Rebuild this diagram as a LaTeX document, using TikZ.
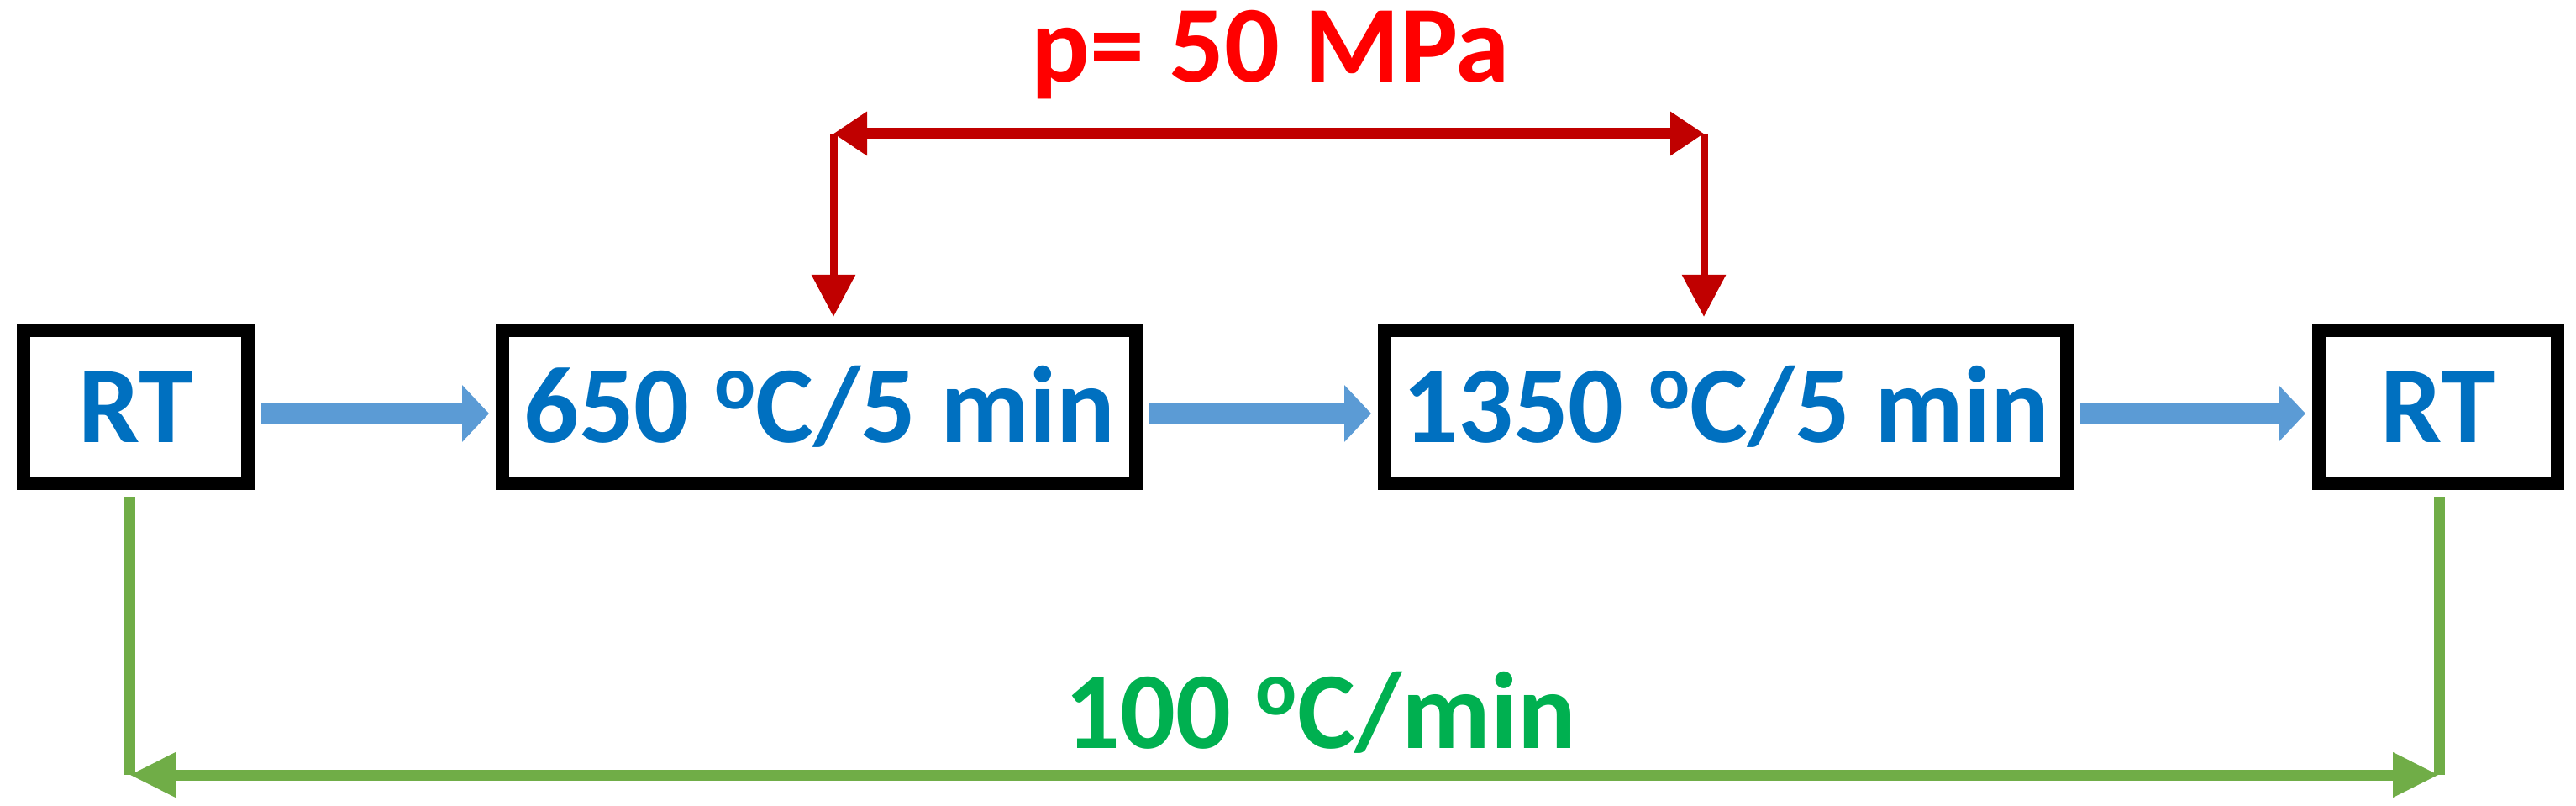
\documentclass[tikz,border=0pt]{standalone}
\usepackage{fontspec}
\setmainfont{Carlito}
\usetikzlibrary{arrows.meta,%
		calc}
\definecolor{stageblue}{HTML}{0070C0}
\definecolor{flowblue}{HTML}{5B9BD5}
\definecolor{pressred}{HTML}{C00000}
\definecolor{labelred}{HTML}{FF0000}
\definecolor{coolgreen}{HTML}{70AD47}
\definecolor{labelgreen}{HTML}{00B050}
\newcommand{\degO}{\raisebox{0.40cm}{\fontsize{26}{26}\selectfont o}}

\begin{document}
\begin{tikzpicture}[font=\fontsize{37}{44}\selectfont\bfseries,
	stage/.style={draw=black, line width=0.16cm, fill=white, text=stageblue, minimum height=1.82cm, inner sep=0pt},
	flow/.style={line width=0.24cm, flowblue, shorten <=0.08cm, shorten >=0.08cm, -{Triangle[length=0.32cm,width=0.66cm]}},
	press/.style={line width=0.09cm, pressred},
	cool/.style={line width=0.13cm, coolgreen}]

\useasboundingbox (0,0) rectangle (30.66,9.58);

\node[stage, minimum width=2.67cm] (rtA) at (1.615,4.74) {RT};
\node[stage, minimum width=7.54cm] (hold) at (9.75,4.74) {650 \degO C/5 min};
\node[stage, minimum width=8.12cm] (sinter) at (20.54,4.74) {1350 \degO C/5 min};
\node[stage, minimum width=2.84cm] (rtB) at (29.02,4.74) {RT};

\draw[flow] ([yshift=-0.08cm]rtA.east) -- ([yshift=-0.08cm]hold.west);
\draw[flow] ([yshift=-0.08cm]hold.east) -- ([yshift=-0.08cm]sinter.west);
\draw[flow] ([yshift=-0.08cm]sinter.east) -- ([yshift=-0.08cm]rtB.west);

\coordinate (pa) at (9.92,7.99);
\coordinate (pb) at (20.28,7.99);
\draw[press, shorten >=0.08cm, -{Triangle[length=0.5cm,width=0.5cm]}] (pa) -- (pa |- hold.north);
\draw[press, shorten >=0.08cm, -{Triangle[length=0.5cm,width=0.5cm]}] (pb) -- (pb |- sinter.north);
\draw[press, line width=0.13cm, {Triangle[length=0.4cm,width=0.5cm]}-{Triangle[length=0.4cm,width=0.5cm]}] (pa) -- (pb);
\node[labelred, anchor=base] (plabel) at (15.12,8.6) {p= 50 MPa};

\coordinate (ca) at (1.54,0.36);
\coordinate (cb) at (29.03,0.36);
\draw[cool, shorten <=0.08cm] (ca |- rtA.south) -- (ca);
\draw[cool, shorten <=0.08cm] (cb |- rtB.south) -- (cb);
\draw[cool, {Triangle[length=0.55cm,width=0.5cm]}-{Triangle[length=0.55cm,width=0.5cm]}] (ca) -- (cb);
\node[labelgreen, anchor=base] (rate) at (15.72,0.68) {100 \degO C/min};

\end{tikzpicture}
\end{document}
